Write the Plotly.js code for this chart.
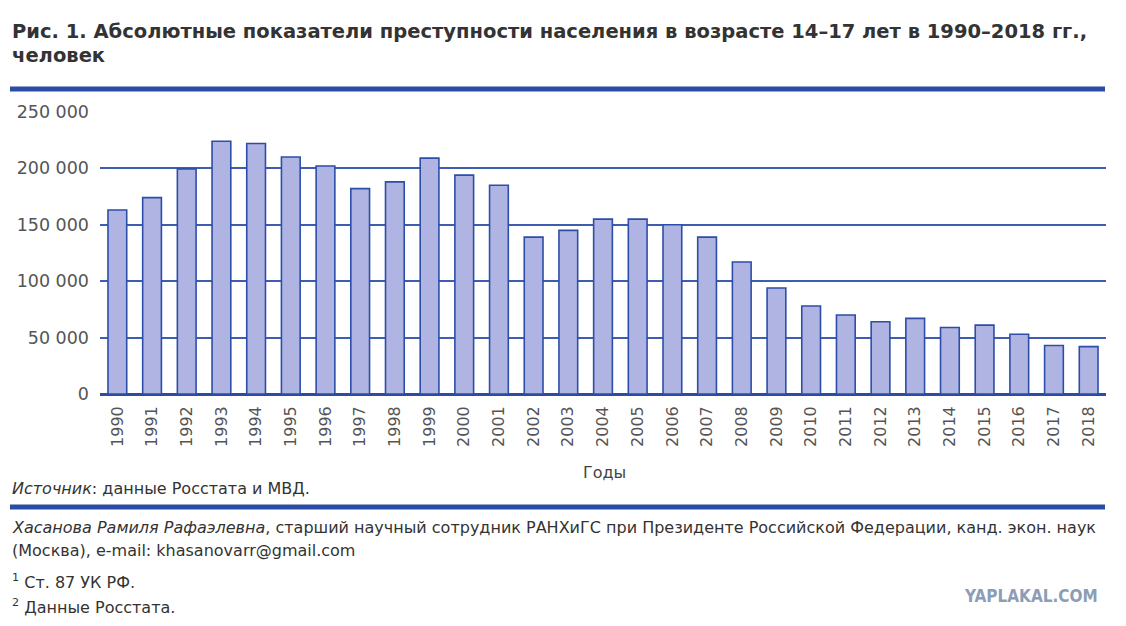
<!DOCTYPE html>
<html><head><meta charset="utf-8">
<script src="https://cdn.plot.ly/plotly-3.0.1.min.js"></script>
<style>body{margin:0;background:#fff}#c{width:1126px;height:626px}</style>
</head><body><div id="c"></div>
<script>
var years = ['1990','1991','1992','1993','1994','1995','1996','1997','1998','1999','2000','2001','2002','2003','2004','2005','2006','2007','2008','2009','2010','2011','2012','2013','2014','2015','2016','2017','2018'];
var crimes = [163000,174000,199500,224000,222000,210000,202000,182000,188000,209000,194000,185000,139000,145000,155000,155000,150000,139000,117000,94000,78000,70000,64000,67000,59000,61000,53000,43000,42000];
var yTicks = [0,50000,100000,150000,200000,250000];

var L=100, R=1106, T=111, B=394;
function px(x){return (x-L)/(R-L);}
function py(y){return (B-y)/(B-T);}
var txt='#333333', blue='#2b4ca4', fam='DejaVu Sans, sans-serif';
function ann(x,y,text,opt){
  var a={xref:'paper',yref:'paper',x:px(x),y:py(y),text:text,showarrow:false,xanchor:'left',yanchor:'middle',
    font:{family:fam,size:16,color:txt}};
  for(var k in opt){a[k]=opt[k];}
  return a;
}
var data=[{type:'bar',x:years,y:crimes,marker:{color:'#b0b4e3',line:{color:'#2d4ea8',width:1.6}},hoverinfo:'x+y'}];
var layout={
  width:1126,height:626,margin:{l:L,r:1126-R,t:T,b:626-B},
  paper_bgcolor:'#fff',plot_bgcolor:'#fff',separators:', ',
  bargap:0.46,showlegend:false,
  xaxis:{type:'category',tickangle:-90,tickfont:{family:fam,size:16,color:'#555'},showgrid:false,ticks:'',showline:false,ticklabelstandoff:8},
  yaxis:{range:[0,250800],tickvals:yTicks,tickformat:',d',tickfont:{family:fam,size:17.5,color:'#555'},
    showgrid:true,gridcolor:'#3d5db3',gridwidth:2,zeroline:true,zerolinecolor:'#2b4ca4',zerolinewidth:3,showline:false,ticks:'',ticklabelstandoff:10},
  shapes:[
    {type:'line',xref:'paper',yref:'paper',x0:px(10),x1:px(1105),y0:py(89),y1:py(89),line:{color:blue,width:5}},
    {type:'line',xref:'paper',yref:'paper',x0:px(10),x1:px(1105),y0:py(507),y1:py(507),line:{color:blue,width:5}}
  ],
  annotations:[
    ann(10,31,'<b>Рис. 1. Абсолютные показатели преступности населения в возрасте 14–17 лет в 1990–2018 гг.,</b>',{font:{family:fam,size:19.5,color:txt}}),
    ann(10,56,'<b>человек</b>',{font:{family:fam,size:19.5,color:txt}}),
    ann(604,472,'Годы',{xanchor:'center',font:{family:fam,size:16,color:'#444'}}),
    ann(10,488,'<i>Источник</i>: данные Росстата и МВД.'),
    ann(10,527,'<i>Хасанова Рамиля Рафаэлевна</i>, старший научный сотрудник РАНХиГС при Президенте Российской Федерации, канд. экон. наук'),
    ann(10,550,'(Москва), e-mail: khasanovarr@gmail.com'),
    ann(10,581,'<sup>1</sup> Ст. 87 УК РФ.'),
    ann(10,606,'<sup>2</sup> Данные Росстата.'),
    ann(1100,596,'<b>YAPLAKAL.COM</b>',{xanchor:'right',font:{family:'DejaVu Sans Condensed, DejaVu Sans, sans-serif',size:17,color:'#8c9db5'}})
  ]
};
Plotly.newPlot('c',data,layout,{displayModeBar:false,staticPlot:true});
</script></body></html>
